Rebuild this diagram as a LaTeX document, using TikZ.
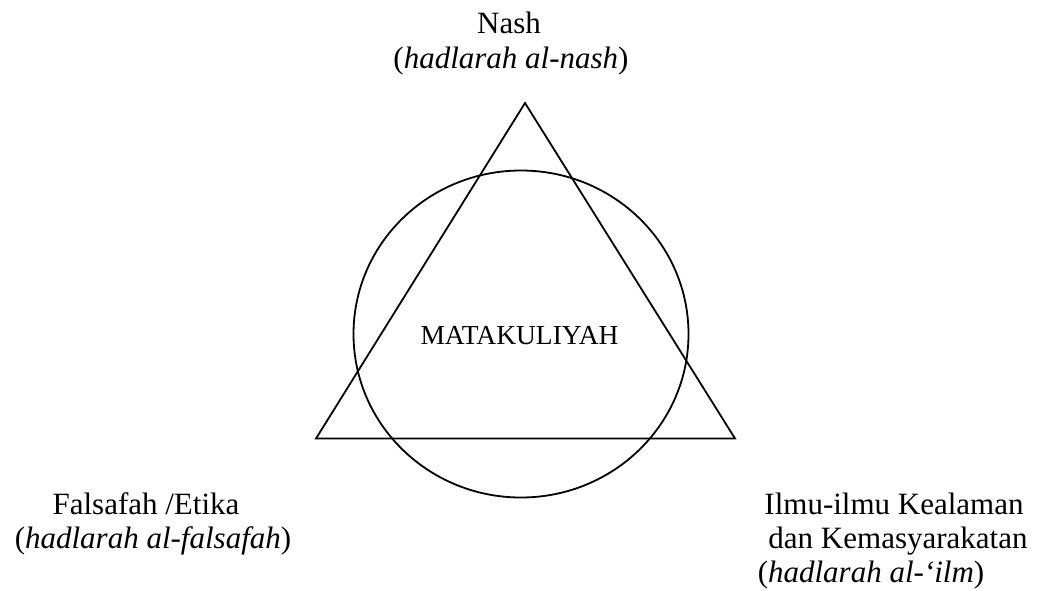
\documentclass[tikz,border=0pt]{standalone}
\usepackage{fontspec}
\setmainfont{Liberation Serif}
\begin{document}
\begin{tikzpicture}[x=1pt,y=-1pt,
  shapeline/.style={line width=1.8pt,black},
  big/.style={inner sep=0pt,anchor=base,font=\fontsize{31}{35}\selectfont},
  mid/.style={inner sep=0pt,anchor=base,font=\fontsize{27.5}{31}\selectfont}]
\useasboundingbox (0,0) rectangle (1040,590);
% triangle
\coordinate (apex) at (525,103);
\coordinate (bl) at (316,438.5);
\coordinate (br) at (735,438.5);
\draw[shapeline,line join=miter] (apex) -- (bl) -- (br) -- cycle;
% circle
\coordinate (ctr) at (521,334);
\draw[shapeline] (ctr) ellipse [x radius=167.5pt, y radius=163.5pt];
% texts
\node[big] (nashA) at (509,33) {Nash};
\node[big] (nashB) at (511,68) {(\textit{hadlarah al-nash})};
\node[mid] (mk) at (519.5,344) {MATAKULIYAH};
\node[big] (falA) at (146,514) {Falsafah /Etika};
\node[big] (falB) at (153,548) {(\textit{hadlarah al-falsafah})};
\node[big] (ilmA) at (894,514) {Ilmu-ilmu Kealaman};
\node[big] (ilmB) at (898,548) {dan Kemasyarakatan};
\node[big] (ilmC) at (871,582) {(\textit{hadlarah al-‘ilm})};
\end{tikzpicture}
\end{document}
